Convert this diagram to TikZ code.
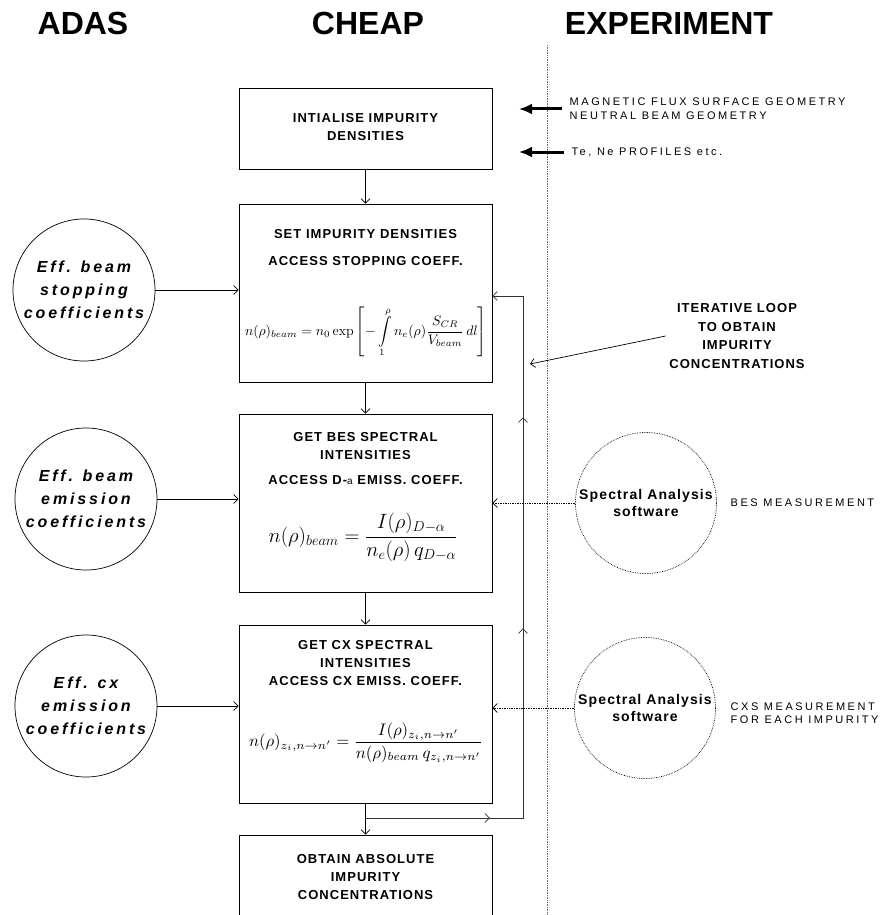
\documentclass[tikz,border=0pt]{standalone}
\usepackage{amsmath,amssymb}
\usepackage{graphicx}
\usepackage[no-math]{fontspec}
\setmainfont{Liberation Sans}
\newfontfamily\wideface[LetterSpace=23]{Liberation Sans}
\newfontfamily\tightface[LetterSpace=8]{Liberation Sans}
\newfontfamily\coeffface[LetterSpace=18]{Liberation Sans}
\usepackage{pgf,tikz}
\usetikzlibrary{arrows,arrows.meta,decorations.markings}

\begin{document}
\begin{tikzpicture}[x=1pt,y=-1pt,>={Straight Barb[length=4.5pt,width=9pt]},
  line width=0.7pt,
  heading/.style={font=\fontsize{32}{36}\bfseries\selectfont},
  stage/.style={draw, line width=0.9pt, minimum width=253pt, inner sep=0pt},
  stagetext/.style={font=\tightface\fontsize{13}{18}\bfseries\selectfont, align=center},
  adasdata/.style={draw, circle, minimum size=142pt, inner sep=0pt, align=center,
    font=\coeffface\fontsize{16}{23}\bfseries\itshape\selectfont},
  specsoft/.style={draw, densely dotted, circle, minimum size=141pt, inner sep=0pt, align=center,
    font=\tightface\fontsize{14}{17}\bfseries\selectfont},
  measure/.style={font=\wideface\fontsize{11}{13.5}\selectfont, align=left, anchor=west},
  fatarrow/.style={line width=3pt, -{Latex[length=13pt,width=11pt]}}]
\useasboundingbox (0,0) rectangle (880,915);
\clip (0,0) rectangle (880,915);

\node[heading] (adas) at (83,23) {ADAS};
\node[heading] (cheap) at (368,23) {CHEAP};
\node[heading] (expt) at (669,23) {EXPERIMENT};
\draw[densely dotted, black!60] (547,45) -- (547,915);

% CHEAP column
\node[stage, minimum height=81pt] (init) at (365.5,128.5) {};
\node[stagetext] (inittxt) at (365.5,127) {INTIALISE IMPURITY\\DENSITIES};

\node[stage, minimum height=178pt] (stop) at (365.5,293) {};
\node[stagetext] (stoptxt) at (365.5,248) {SET IMPURITY DENSITIES\\[9pt]ACCESS STOPPING COEFF.};
\node (stopeq) at (366,332)
  {\resizebox{242pt}{!}{$\displaystyle n(\rho)_{beam}=n_0\exp\left[-\int\limits_1^{\rho}n_e(\rho)\frac{S_{CR}}{V_{beam}}\,dl\right]$}};

\node[stage, minimum height=178pt] (emis) at (365.5,503) {};
\node[stagetext] (emistxt) at (365.5,459) {GET BES SPECTRAL\\INTENSITIES\\[7pt]ACCESS D-{\mdseries\fontsize{10}{12}\selectfont a} EMISS. COEFF.};
\node[font=\fontsize{20}{24}\selectfont] (emiseq) at (363,537)
  {$\displaystyle n(\rho)_{beam}=\frac{I(\rho)_{D-\alpha}}{n_e(\rho)\,q_{D-\alpha}}$};

\node[stage, minimum height=178pt] (cx) at (365.5,714) {};
\node[stagetext] (cxtxt) at (365.5,663) {GET CX SPECTRAL\\INTENSITIES\\ACCESS CX EMISS. COEFF.};
\node (cxeq) at (366,743)
  {\resizebox{234pt}{!}{$\displaystyle n(\rho)_{z_i,n\to n'}=\frac{I(\rho)_{z_i,n\to n'}}{n(\rho)_{beam}\,q_{z_i,n\to n'}}$}};

\node[stage, minimum height=125pt] (abs) at (365.5,897.5) {};
\node[stagetext] (abstxt) at (365.5,877) {OBTAIN ABSOLUTE\\IMPURITY\\CONCENTRATIONS};

\draw[->] (init) -- (stop);
\draw[->] (stop) -- (emis);
\draw[->] (emis) -- (cx);
\draw[->] (cx) -- (abs);

% iterative loop
\coordinate (loopbot) at (523,818);
\coordinate (looptop) at (523,296);
\coordinate (fork) at (cx.south |- loopbot);
\draw[->, black!80, postaction={decorate}, decoration={markings,
    mark=at position 0.175 with {\arrow{>}},
    mark=at position 0.489 with {\arrow{>}},
    mark=at position 0.786 with {\arrow{>}}}]
  (fork) -- (loopbot) -- (looptop) -- (looptop -| stop.east);
\node[font=\tightface\fontsize{13}{18.7}\bfseries\selectfont, align=center] (iter) at (737,336)
  {ITERATIVE LOOP\\TO OBTAIN\\IMPURITY\\CONCENTRATIONS};
\coordinate (itertip) at (530,364);
\draw[->] (iter.west) -- (itertip);

% ADAS column
\node[adasdata] (stopc) at (84,290) {Eff. beam\\stopping\\coefficients};
\node[adasdata] (emisc) at (86,499) {Eff. beam\\emission\\coefficients};
\node[adasdata] (cxc) at (86,706) {Eff. cx\\emission\\coefficients};
\draw[->] (stopc) -- (stopc -| stop.west);
\draw[->] (emisc) -- (emisc -| emis.west);
\draw[->] (cxc) -- (cxc -| cx.west);

% EXPERIMENT column
\node[measure] (geom) at (566,108.5) {MAGNETIC FLUX SURFACE GEOMETRY\\NEUTRAL BEAM GEOMETRY};
\node[measure] (prof) at (568,152) {Te, Ne PROFILES etc.};
\coordinate (geomtip) at (519,109);
\coordinate (proftip) at (519,152);
\draw[fatarrow, shorten <=4pt] (geom.west |- geomtip) -- (geomtip);
\draw[fatarrow, shorten <=4pt] (prof.west) -- (proftip);

\node[specsoft] (besa) at (646,503) {Spectral Analysis\\software};
\node[specsoft] (cxsa) at (645,708) {Spectral Analysis\\software};
\draw[densely dotted, ->] (besa) -- (besa -| emis.east);
\draw[densely dotted, ->] (cxsa) -- (cxsa -| cx.east);
\node[measure] (besm) at (727,503) {BES MEASUREMENT};
\node[measure] (cxsm) at (727,713) {CXS MEASUREMENT\\FOR EACH IMPURITY};
\end{tikzpicture}
\end{document}
